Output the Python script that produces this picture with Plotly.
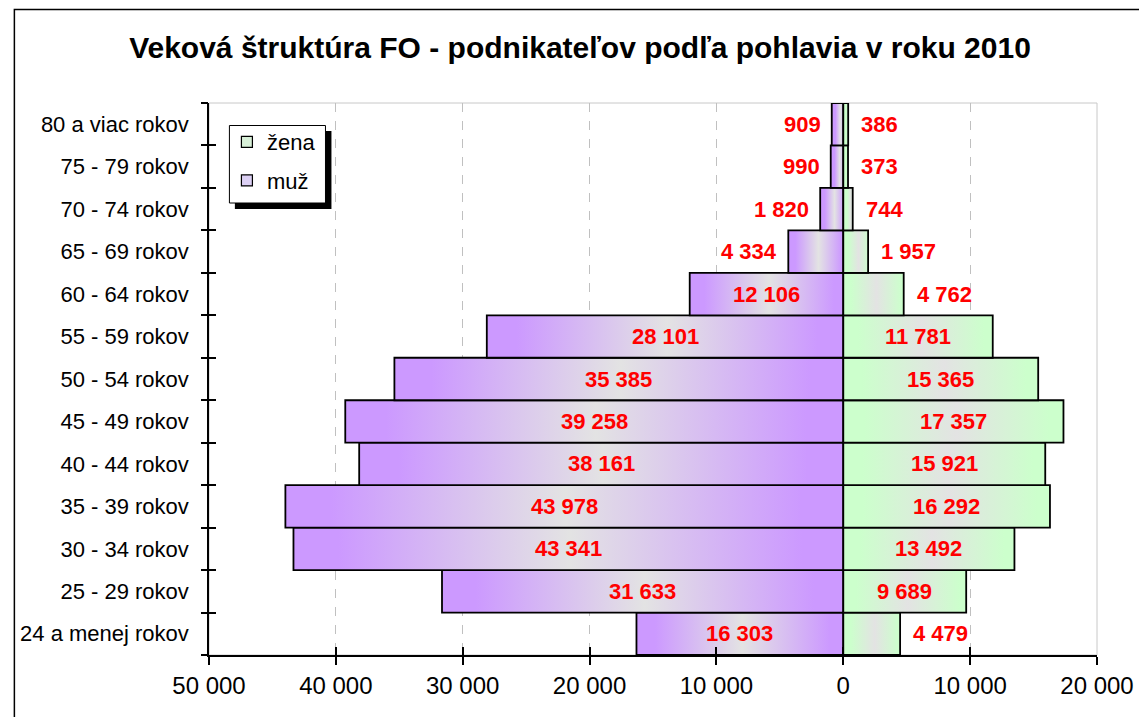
import plotly.graph_objects as go

categories = ["24 a menej rokov", "25 - 29 rokov", "30 - 34 rokov", "35 - 39 rokov",
              "40 - 44 rokov", "45 - 49 rokov", "50 - 54 rokov", "55 - 59 rokov",
              "60 - 64 rokov", "65 - 69 rokov", "70 - 74 rokov", "75 - 79 rokov",
              "80 a viac rokov"]
men = [16303, 31633, 43341, 43978, 38161, 39258, 35385, 28101, 12106, 4334, 1820, 990, 909]
women = [4479, 9689, 13492, 16292, 15921, 17357, 15365, 11781, 4762, 1957, 744, 373, 386]
x_ticks = [-50000, -40000, -30000, -20000, -10000, 0, 10000, 20000]

TITLE = "Veková štruktúra FO - podnikateľov podľa pohlavia v roku 2010"
FONT = "Liberation Sans, Arial, sans-serif"

W, H = 1147, 717
OFF = 8  # page body margin in the browser
# plot area in screen pixels: x 205..1097, y 103..655
L = 205 - OFF
T = 103 - OFF
R = W - (1097 - OFF)
B = H - (655 - OFF)
PW, PH = W - L - R, H - T - B


def fmt(v):
    return f"{abs(int(v)):,}".replace(",", " ")


def px2x(px):
    return (px - OFF - L) / PW


def py2y(py):
    return (H - B - (py - OFF)) / PH


PURPLE = "#cc99ff"
GREEN = "#ccffcc"
GREY = "#e3e3e3"

fig = go.Figure()

for i, v in enumerate(men):
    fig.add_trace(go.Scatter(
        x=[0, -v, -v, 0, 0], y=[i - 0.5, i - 0.5, i + 0.5, i + 0.5, i - 0.5],
        mode="lines", fill="toself", line=dict(color="black", width=1.8),
        fillgradient=dict(type="horizontal", start=-v, stop=0,
                          colorscale=[[0, PURPLE], [0.08, PURPLE], [0.5, GREY], [0.92, PURPLE], [1, PURPLE]]),
        showlegend=False, hoverinfo="skip"))

for i, v in enumerate(women):
    fig.add_trace(go.Scatter(
        x=[0, v, v, 0, 0], y=[i - 0.5, i - 0.5, i + 0.5, i + 0.5, i - 0.5],
        mode="lines", fill="toself", line=dict(color="black", width=1.8),
        fillgradient=dict(type="horizontal", start=0, stop=v,
                          colorscale=[[0, GREEN], [0.08, GREEN], [0.5, GREY], [0.92, GREEN], [1, GREEN]]),
        showlegend=False, hoverinfo="skip"))

# legend entries
fig.add_trace(go.Scatter(x=[None], y=[None], mode="markers", name="žena", legendgroup="z",
                         marker=dict(symbol="square", size=11, color="#d8f0d8",
                                     line=dict(color="black", width=1.2))))
fig.add_trace(go.Scatter(x=[None], y=[None], mode="markers", name="muž", legendgroup="m",
                         marker=dict(symbol="square", size=11, color="#dcd0f4",
                                     line=dict(color="black", width=1.2))))

annotations = []
for i, v in enumerate(men):
    if v >= 8000:
        annotations.append(dict(x=-v / 2, y=i, text=f"<b>{fmt(v)}</b>", showarrow=False,
                                xanchor="center", yanchor="middle"))
    else:
        annotations.append(dict(x=-v, y=i, text=f"<b>{fmt(v)}</b>", showarrow=False,
                                xanchor="right", yanchor="middle", xshift=-9))
for i, v in enumerate(women):
    if v >= 8000:
        annotations.append(dict(x=v / 2, y=i, text=f"<b>{fmt(v)}</b>", showarrow=False,
                                xanchor="center", yanchor="middle"))
    else:
        annotations.append(dict(x=v, y=i, text=f"<b>{fmt(v)}</b>", showarrow=False,
                                xanchor="left", yanchor="middle", xshift=11))
for a in annotations:
    a["font"] = dict(family=FONT, size=22, color="#ff0000")
    a["xref"] = "x"
    a["yref"] = "y"

boundaries = [i - 0.5 for i in range(len(categories) + 1)]

shapes = [
    # plot area light border
    dict(type="rect", xref="x domain", yref="y domain", x0=0, x1=1, y0=0, y1=1,
         line=dict(color="#c8c8c8", width=1), layer="below"),
    # outer chart border
    dict(type="rect", xref="paper", yref="paper", x0=px2x(9.5), x1=px2x(1170),
         y0=py2y(740), y1=py2y(9.5), line=dict(color="black", width=1.5), layer="above"),
    # legend shadow
    dict(type="rect", xref="paper", yref="paper", x0=px2x(231), x1=px2x(328),
         y0=py2y(209), y1=py2y(131), fillcolor="black", line=dict(width=0), layer="above"),
    # legend box
    dict(type="rect", xref="paper", yref="paper", x0=px2x(225.5), x1=px2x(322),
         y0=py2y(203), y1=py2y(125.5), fillcolor="white", line=dict(color="black", width=1),
         layer="above"),
]

fig.update_layout(
    width=W, height=H,
    margin=dict(l=L, r=R, t=T, b=B),
    paper_bgcolor="white", plot_bgcolor="white",
    font=dict(family=FONT, color="black"),
    title=dict(text=f"<b>{TITLE}</b>", x=(580 - OFF) / W, xanchor="center",
               y=1 - (47 - OFF) / H, yanchor="middle",
               font=dict(family=FONT, size=30, color="black")),
    showlegend=True,
    legend=dict(x=px2x(223), y=py2y(121), xanchor="left", yanchor="top",
                bgcolor="rgba(0,0,0,0)", borderwidth=0, tracegroupgap=7,
                font=dict(family=FONT, size=22, color="black")),
    xaxis=dict(range=[-50000, 20000], tickvals=x_ticks, ticktext=[fmt(v) for v in x_ticks],
               showgrid=True, gridcolor="#c0c0c0", griddash="dash", gridwidth=1,
               zeroline=False, showline=True, linecolor="black", linewidth=1.5,
               ticks="outside", ticklen=8, tickwidth=1.5, tickcolor="black",
               tickfont=dict(family=FONT, size=24, color="black"), fixedrange=True),
    xaxis2=dict(range=[-50000, 20000], overlaying="x", side="bottom", tickvals=x_ticks,
                showticklabels=False, showgrid=False, zeroline=False, showline=False,
                ticks="inside", ticklen=8, tickwidth=1.5, tickcolor="black", fixedrange=True),
    yaxis=dict(range=[-0.5, len(categories) - 0.5], tickvals=list(range(len(categories))),
               ticktext=categories, ticks="", showgrid=False, zeroline=False,
               showline=True, linecolor="black", linewidth=1.5, ticklabelstandoff=14,
               tickfont=dict(family=FONT, size=22, color="black"), fixedrange=True),
    yaxis2=dict(range=[-0.5, len(categories) - 0.5], overlaying="y", side="left",
                tickvals=boundaries, showticklabels=False, showgrid=False, zeroline=False,
                showline=False, ticks="outside", ticklen=7, tickwidth=1.5, tickcolor="black",
                fixedrange=True),
    yaxis3=dict(range=[-0.5, len(categories) - 0.5], overlaying="y", side="left",
                tickvals=boundaries, showticklabels=False, showgrid=False, zeroline=False,
                showline=False, ticks="inside", ticklen=7, tickwidth=1.5, tickcolor="black",
                fixedrange=True),
    annotations=annotations,
    shapes=shapes,
)

# dummy traces to activate overlay axes
fig.add_trace(go.Scatter(x=[None], y=[None], xaxis="x2", yaxis="y2", showlegend=False, hoverinfo="skip"))
fig.add_trace(go.Scatter(x=[None], y=[None], xaxis="x", yaxis="y3", showlegend=False, hoverinfo="skip"))

fig.write_html("out.html", config={"displayModeBar": False})
